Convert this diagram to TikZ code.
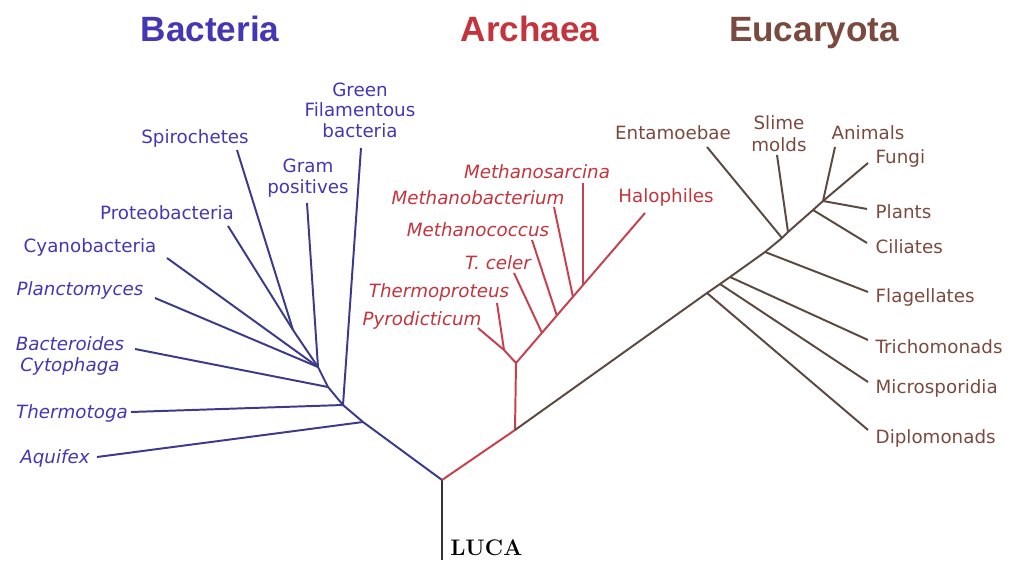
\documentclass[tikz,border=0pt]{standalone}
\usepackage{fontspec}
\newfontfamily\labfont{DejaVu Sans}
\newfontfamily\headfont{Liberation Sans}
\definecolor{bactext}{HTML}{4536B4}
\definecolor{bacline}{HTML}{3C3A8C}
\definecolor{arctext}{HTML}{C4343C}
\definecolor{arcline}{HTML}{C8404C}
\definecolor{euctext}{HTML}{7A4A3E}
\definecolor{eucline}{HTML}{5C4A42}

\begin{document}
\begin{tikzpicture}[x=0.025cm, y=-0.025cm,
	lab/.style={font=\labfont\fontsize{13}{15.5}\selectfont, inner sep=1pt, align=center},
	bac/.style={lab, text=bactext}, bacit/.style={bac, font=\labfont\fontsize{13}{15.5}\selectfont\itshape},
	arc/.style={lab, text=arctext}, arcit/.style={arc, font=\labfont\fontsize{13}{15.5}\selectfont\itshape},
	euc/.style={lab, text=euctext, anchor=west},
	head/.style={font=\headfont\bfseries\fontsize{25}{30}\selectfont, anchor=base},
	bline/.style={draw=bacline, line width=1.4pt, line join=round},
	aline/.style={draw=arcline, line width=1.4pt, line join=round},
	eline/.style={draw=eucline, line width=1.4pt, line join=round}]
			\useasboundingbox (0,0) rectangle (1016,563);
			\node[head, text=bactext] (bacteria) at (210,42) {Bacteria};
			\node[head, text=arctext] (archaea) at (530,42) {Archaea};
			\node[head, text=euctext] (eucaryota) at (814,42) {Eucaryota};
			\coordinate (root) at (442,480);
			\coordinate (base) at (442,560);
			\node[font=\bfseries\fontsize{16}{19}\selectfont, anchor=west, inner sep=0pt] (luca) at (450,548) {LUCA};
			\draw[line width=1.4pt, draw=black!80] (base) -- (root);
			\coordinate (b1) at (363,422);
			\coordinate (b0) at (343,405);
			\coordinate (b2) at (328,387);
			\coordinate (b3) at (318,367);
			\coordinate (b4) at (293,330);
			\node[bac] (green) at (360,110) {Green\\[-1pt]Filamentous\\[-1pt]bacteria};
			\node[bac] (spiro) at (195,138) {Spirochetes};
			\node[bac] (gram) at (308,178) {Gram\\[-1pt]positives};
			\node[bac] (proteo) at (167,213) {Proteobacteria};
			\node[bac] (cyano) at (90,247) {Cyanobacteria};
			\node[bacit] (plancto) at (80,290) {Planctomyces};
			\node[bacit] (bactero) at (70,356) {Bacteroides\\[-1pt]Cytophaga};
			\node[bacit] (thermotoga) at (72,413) {Thermotoga};
			\node[bacit] (aquifex) at (55,458) {Aquifex};
			\coordinate (tgreen) at (361,148);
			\coordinate (tspiro) at (237,150);
			\coordinate (tgram) at (307,203);
			\coordinate (tproteo) at (228,226);
			\coordinate (tcyano) at (167,258);
			\coordinate (tplancto) at (155,298);
			\coordinate (tbactero) at (135,349);
			\coordinate (tthermotoga) at (131,412);
			\coordinate (taquifex) at (97,457);
			\draw[bline] (root) -- (b1) -- (b0) -- (b2) -- (b3) -- (b4);
			\draw[bline] (b4) -- (tspiro);
			\draw[bline] (b4) -- (tproteo);
			\draw[bline] (b3) -- (tgram);
			\draw[bline] (b3) -- (tcyano);
			\draw[bline] (b3) -- (tplancto);
			\draw[bline] (b2) -- (tbactero);
			\draw[bline] (b0) -- (tthermotoga);
			\draw[bline] (b0) -- (tgreen);
			\draw[bline] (b1) -- (taquifex);
			\coordinate (a0) at (515,430);
			\coordinate (a1) at (516,363);
			\coordinate (a2) at (504,350);
			\coordinate (a3) at (542,333);
			\coordinate (a4) at (557,316);
			\coordinate (a5) at (573,297);
			\coordinate (a6) at (583,285);
			\node[arcit] (msarcina) at (537,172) {Methanosarcina};
			\node[arcit] (mbacter) at (478,198) {Methanobacterium};
			\node[arcit] (mcoccus) at (478,230) {Methanococcus};
			\node[arcit] (tceler) at (498,263) {T. celer};
			\node[arcit] (thermoprot) at (439,292) {Thermoproteus};
			\node[arcit] (pyro) at (422,320) {Pyrodicticum};
			\node[arc] (halo) at (666,197) {Halophiles};
			\coordinate (tmsarcina) at (583,183);
			\coordinate (tmbacter) at (554,207);
			\coordinate (tmcoccus) at (532,240);
			\coordinate (ttceler) at (514,273);
			\coordinate (tthermoprot) at (497,303);
			\coordinate (tpyro) at (478,328);
			\coordinate (thalo) at (645,213);
			\draw[aline] (root) -- (a0) -- (a1) -- (thalo);
			\draw[aline] (a1) -- (a2) -- (tpyro);
			\draw[aline] (a2) -- (tthermoprot);
			\draw[aline] (a3) -- (ttceler);
			\draw[aline] (a4) -- (tmcoccus);
			\draw[aline] (a5) -- (tmbacter);
			\draw[aline] (a6) -- (tmsarcina);
			\coordinate (e1) at (707,293);
			\coordinate (e2) at (720,284);
			\coordinate (e3) at (730,277);
			\coordinate (e4) at (765,252);
			\coordinate (e5) at (782,238);
			\coordinate (e6) at (788,232);
			\coordinate (e7) at (813,210);
			\coordinate (e8) at (823,201);
			\node[lab, text=euctext] (entam) at (673,133) {Entamoebae};
			\node[lab, text=euctext] (slime) at (779,134) {Slime\\[0pt]molds};
			\node[lab, text=euctext] (animals) at (868,133) {Animals};
			\node[euc] (fungi) at (874,158) {Fungi};
			\node[euc] (plants) at (874,212) {Plants};
			\node[euc] (ciliates) at (874,247) {Ciliates};
			\node[euc] (flagel) at (874,297) {Flagellates};
			\node[euc] (tricho) at (874,347) {Trichomonads};
			\node[euc] (micro) at (874,388) {Microsporidia};
			\node[euc] (diplo) at (874,438) {Diplomonads};
			\coordinate (tentam) at (707,147);
			\coordinate (tslime) at (777,155);
			\coordinate (tanimals) at (835,147);
			\coordinate (tfungi) at (868,163);
			\coordinate (tplants) at (867,209);
			\coordinate (tciliates) at (867,243);
			\coordinate (tflagel) at (868,292);
			\coordinate (ttricho) at (868,340);
			\coordinate (tmicro) at (868,382);
			\coordinate (tdiplo) at (868,430);
			\draw[eline] (a0) -- (e1) -- (e2) -- (e3) -- (e4) -- (e5) -- (e6) -- (e7) -- (e8);
			\draw[eline] (e1) -- (tdiplo);
			\draw[eline] (e2) -- (tmicro);
			\draw[eline] (e3) -- (ttricho);
			\draw[eline] (e4) -- (tflagel);
			\draw[eline] (e5) -- (tentam);
			\draw[eline] (e6) -- (tslime);
			\draw[eline] (e7) -- (tciliates);
			\draw[eline] (e8) -- (tplants);
			\draw[eline] (e8) -- (tfungi);
			\draw[eline] (e8) -- (tanimals);
\end{tikzpicture}
\end{document}
